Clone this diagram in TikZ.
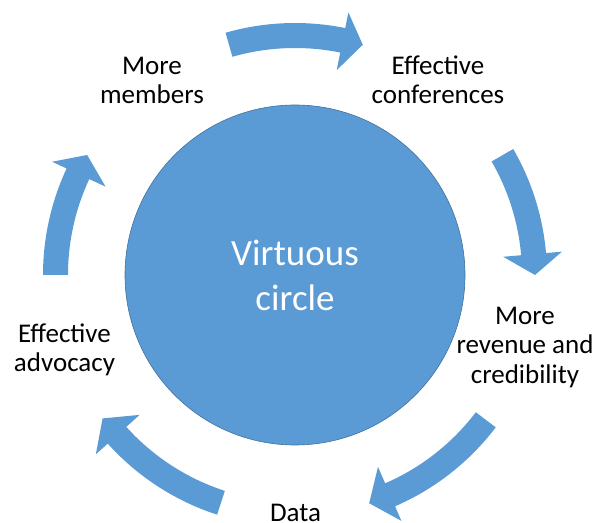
\documentclass[tikz,border=0pt]{standalone}
\usepackage{fontspec}
\setmainfont{Carlito}
\definecolor{cblue}{HTML}{5B9BD5}
\definecolor{cedge}{HTML}{41719C}
\newcommand{\cyclearrow}[3]{%
  \fill[arrowfill] ($(c)+(#1:252)$) arc[start angle=#1, end angle=#2, radius=252]
    -- ($(c)+(#2:268)$) -- ($(c)+(#3:240)$) -- ($(c)+(#2:209)$) -- ($(c)+(#2:227)$)
    arc[start angle=#2, end angle=#1, radius=227] -- cycle;}
\usetikzlibrary{calc}
\begin{document}
\begin{tikzpicture}[x=1pt,y=1pt,
  lbl/.style={font=\fontsize{27}{29.5}\selectfont, align=center, inner sep=0pt, anchor=base, text=black},
  arrowfill/.style={fill=cblue}]
\useasboundingbox (0,0) rectangle (596,522);
\coordinate (c) at (295,247);
\node[circle, fill=cblue, draw=cedge, line width=0.6pt, minimum size=340pt, inner sep=0pt,
  font=\fontsize{37}{45}\selectfont, text=white, align=center] (hub) at (c) {Virtuous\\circle};
\node[lbl] (members) at (152,418) {More\\members};
\node[lbl] (conf) at (438,418) {Effective\\conferences};
\node[lbl] (revenue) at (525,139) {More\\revenue and\\credibility};
\node[lbl] (data) at (295.5,1) {Data};
\node[lbl] (advocacy) at (64.5,150) {Effective\\advocacy};
\cyclearrow{106}{78.5}{73.6}
\cyclearrow{30}{5}{0}
\cyclearrow{-37.2}{-66.6}{-72}
\cyclearrow{252}{222}{216.7}
\cyclearrow{180}{155}{150}
\end{tikzpicture}
\end{document}
